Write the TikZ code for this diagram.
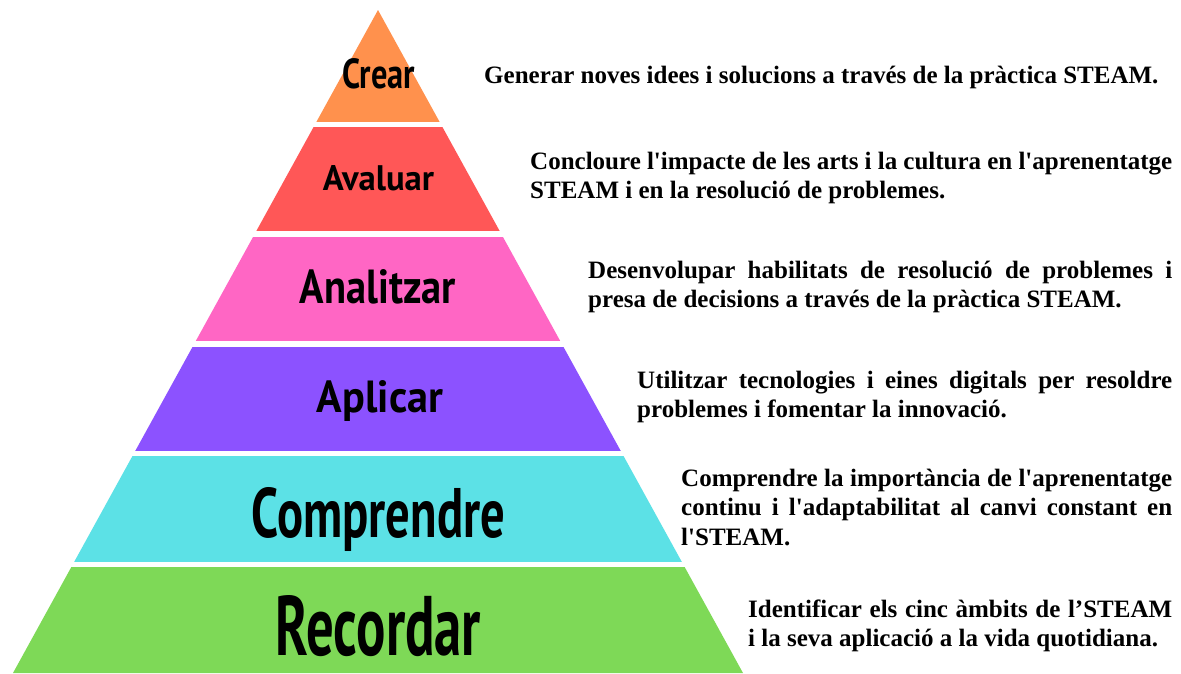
\documentclass[tikz,border=0pt]{standalone}
\usepackage{fontspec}
\usepackage{graphicx}
\newfontfamily\descfont{Liberation Serif}
\newfontfamily\lblfont{PT Sans}
\definecolor{cCrear}{HTML}{FF914D}
\definecolor{cAvaluar}{HTML}{FF5757}
\definecolor{cAnalitzar}{HTML}{FF66C4}
\definecolor{cAplicar}{HTML}{8C52FF}
\definecolor{cComprendre}{HTML}{5CE1E6}
\definecolor{cRecordar}{HTML}{7ED957}
\newcommand{\jline}[1]{\makebox[\linewidth][s]{#1}\\}
\tikzset{
  lbl/.style={anchor=base, inner sep=0pt, font=\lblfont\bfseries},
  desc/.style={anchor=base west, inner sep=0pt, font=\descfont\bfseries\fontsize{25}{29.5}\selectfont},
}
\begin{document}
\begin{tikzpicture}[x=1pt,y=-1pt]
\useasboundingbox (0,0) rectangle (1181,673);
\fill[white] (0,0) rectangle (1181,673);
\begin{scope}
\clip (378,10) -- (13,673) -- (743,673) -- cycle;
\fill[cCrear] (0,0) rectangle (1181,122);
\fill[cAvaluar] (0,127) rectangle (1181,231);
\fill[cAnalitzar] (0,237) rectangle (1181,341);
\fill[cAplicar] (0,347) rectangle (1181,451);
\fill[cComprendre] (0,456) rectangle (1181,562);
\fill[cRecordar] (0,567) rectangle (1181,680);
\end{scope}
\node[lbl] (crear) at (378.5,88) {\resizebox{73pt}{30pt}{Crear}};
\node[lbl] (avaluar) at (378.5,190) {\resizebox{111pt}{25pt}{Avaluar}};
\node[lbl] (analitzar) at (378,303) {\resizebox{156pt}{34pt}{Analitzar}};
\node[lbl] (aplicar) at (380,412) {\resizebox{126pt}{32pt}{Aplicar}};
\node[lbl] (comprendre) at (378.5,537) {\resizebox{253pt}{50pt}{Comprendre}};
\node[lbl] (recordar) at (378.5,655) {\resizebox{205pt}{60pt}{Recordar}};
\node[desc] (d1) at (484,83) {Generar noves idees i solucions a través de la pràctica STEAM.};
\node[desc] (d2) at (530,169) {\parbox[t]{642pt}{\jline{Concloure l'impacte de les arts i la cultura en l'aprenentatge}STEAM i en la resolució de problemes.}};
\node[desc] (d3) at (588,278) {\parbox[t]{584pt}{\jline{Desenvolupar habilitats de resolució de problemes i}presa de decisions a través de la pràctica STEAM.}};
\node[desc] (d4) at (637,388) {\parbox[t]{535pt}{\jline{Utilitzar tecnologies i eines digitals per resoldre}problemes i fomentar la innovació.}};
\node[desc] (d5) at (681,486) {\parbox[t]{491pt}{\jline{Comprendre la importància de l'aprenentatge}\jline{continu i l'adaptabilitat al canvi constant en}l'STEAM.}};
\node[desc] (d6) at (748,617) {\parbox[t]{424pt}{\jline{Identificar els cinc àmbits de l’STEAM}i la seva aplicació a la vida quotidiana.}};
\end{tikzpicture}
\end{document}
